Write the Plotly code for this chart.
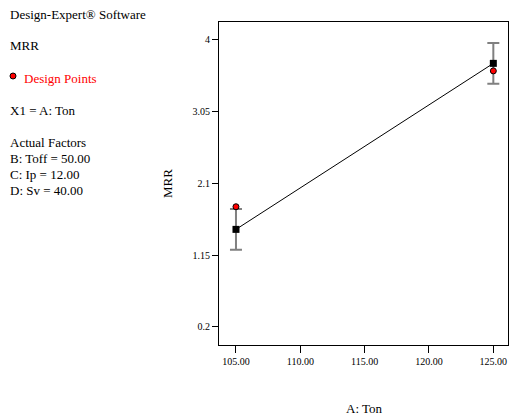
import plotly.graph_objects as go

# Data
ton = [105, 125]
mrr_pred = [1.49, 3.69]
mrr_err = [0.27, 0.27]
design_ton = [105, 125]
design_mrr = [1.79, 3.59]

x_ticks = [105, 110, 115, 120, 125]
x_ticklabels = ["105.00", "110.00", "115.00", "120.00", "125.00"]
y_ticks = [0.2, 1.15, 2.1, 3.05, 4]
y_ticklabels = ["0.2", "1.15", "2.1", "3.05", "4"]

W, H = 511, 419
L, R, T, B = 219, 3, 22, 74
pw, ph = W - L - R, H - T - B

def px(x):
    return (x - L) / pw

def py(y):
    return (H - B - y) / ph

font = "Liberation Serif, Times New Roman, serif"

fig = go.Figure()
fig.add_trace(go.Scatter(
    x=ton, y=mrr_pred, mode="lines+markers",
    line=dict(color="black", width=1),
    marker=dict(symbol="square", size=7, color="black"),
    error_y=dict(type="data", array=mrr_err, color="#808080", thickness=2, width=6),
    showlegend=False, hoverinfo="skip"))
fig.add_trace(go.Scatter(
    x=design_ton, y=design_mrr, mode="markers",
    marker=dict(symbol="circle", size=6, color="red", line=dict(color="black", width=1)),
    showlegend=False, hoverinfo="skip"))

fig.update_layout(
    width=W, height=H,
    margin=dict(l=L, r=R, t=T, b=B, pad=0),
    paper_bgcolor="white", plot_bgcolor="white",
    font=dict(family=font, color="black", size=10),
    xaxis=dict(range=[103.68, 126.14], tickvals=x_ticks, ticktext=x_ticklabels,
               showline=True, linecolor="black", linewidth=1, mirror=True,
               ticks="outside", ticklen=7, tickcolor="black", showgrid=False,
               zeroline=False, tickfont=dict(size=10, family=font)),
    yaxis=dict(range=[-0.042, 4.238], tickvals=y_ticks, ticktext=y_ticklabels,
               showline=True, linecolor="black", linewidth=1, mirror=True,
               ticks="outside", ticklen=6, tickcolor="black", showgrid=False,
               zeroline=False, tickfont=dict(size=10, family=font)),
)

anns = [
    ("Design-Expert® Software", 8, 15, "black"),
    ("MRR", 8, 46, "black"),
    ("Design Points", 22, 78, "red"),
    ("X1 = A: Ton", 8, 110, "black"),
    ("Actual Factors", 8, 142, "black"),
    ("B: Toff = 50.00", 8, 158, "black"),
    ("C: Ip = 12.00", 8, 174, "black"),
    ("D: Sv = 40.00", 8, 190, "black"),
]
for text, x, y, c in anns:
    fig.add_annotation(text=text, xref="paper", yref="paper", x=px(x), y=py(y),
                       xanchor="left", yanchor="middle", showarrow=False,
                       font=dict(size=13, color=c, family=font))

fig.add_shape(type="circle", xref="paper", yref="paper",
              x0=px(10), x1=px(16), y0=py(79), y1=py(73),
              fillcolor="red", line=dict(color="black", width=1))

fig.add_annotation(text="MRR", xref="paper", yref="paper", x=px(167), y=py(184),
                   textangle=-90, showarrow=False, xanchor="center", yanchor="middle",
                   font=dict(size=13, family=font))
fig.add_annotation(text="A: Ton", xref="paper", yref="paper", x=px(364), y=py(408),
                   showarrow=False, xanchor="center", yanchor="middle",
                   font=dict(size=13, family=font))

fig.write_html("out.html", config={"displayModeBar": False},
               post_script="document.body.style.margin='0';document.body.style.overflow='hidden';")
